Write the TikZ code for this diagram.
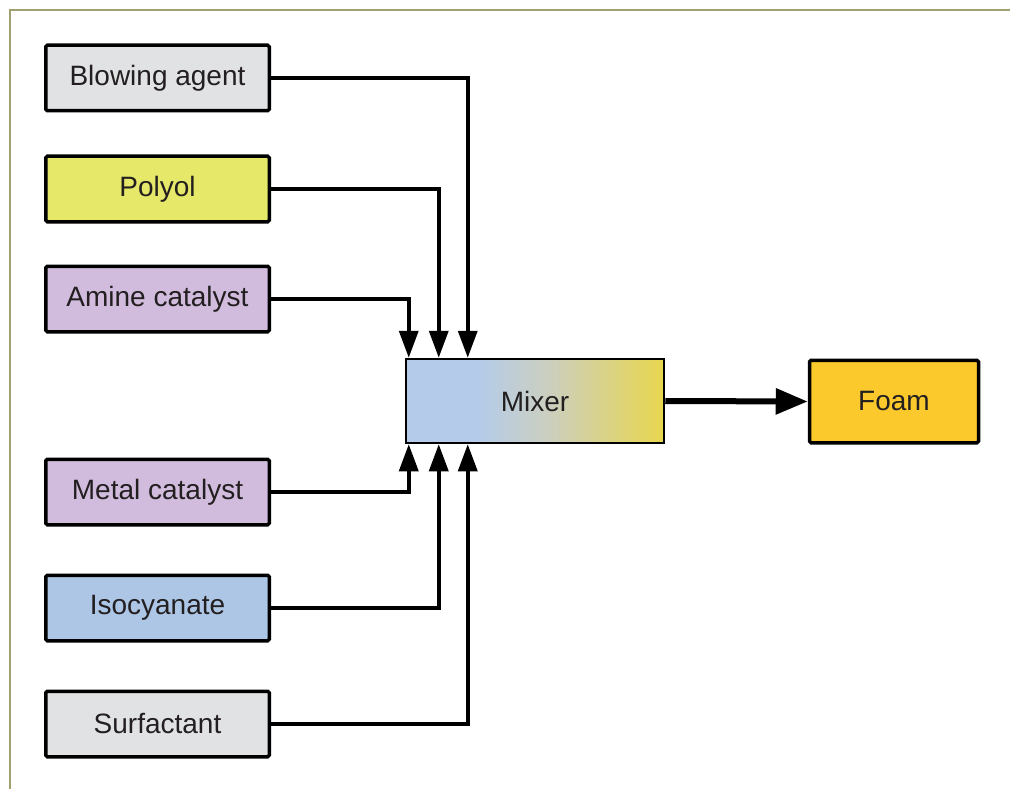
\documentclass[tikz,border=0pt]{standalone}
\usepackage{fontspec}
\setmainfont{Liberation Sans}
\usetikzlibrary{arrows.meta}
\definecolor{txt}{HTML}{231F20}
\definecolor{cgray}{HTML}{E1E2E4}
\definecolor{cpoly}{HTML}{E6E86A}
\definecolor{cpurp}{HTML}{D1BCDD}
\definecolor{cblue}{HTML}{ADC6E6}
\definecolor{cfoam}{HTML}{FCC92D}
\definecolor{mblue}{HTML}{B4CBE9}
\definecolor{mmid}{HTML}{CBCFC2}
\definecolor{myel}{HTML}{E8D64E}
\definecolor{frame}{HTML}{A0A070}
\pgfdeclarehorizontalshading{mixershade}{100bp}{color(0bp)=(mblue); color(25bp)=(mblue); color(39bp)=(mblue); color(52bp)=(mmid); color(75bp)=(myel); color(100bp)=(myel)}
\tikzset{
  inbox/.style={draw=black, line width=3.5pt, rounded corners=1.5pt, minimum width=223.5pt, minimum height=65.5pt, inner sep=0pt, text=txt, font=\fontsize{28}{32}\selectfont},
  conn/.style={draw=black, line width=3.5pt, -{Triangle[length=27pt,width=19pt]}},
  bigconn/.style={draw=black, line width=6pt, -{Triangle[length=32pt,width=25pt]}}
}
\begin{document}
\begin{tikzpicture}[x=1pt,y=-1pt]
\useasboundingbox (0,0) rectangle (1010,789);
\draw[frame, line width=1.2pt] (1010,10) -- (10,10) -- (10,789);
\node[inbox, fill=cgray] (ba) at (157.5,78) {Blowing agent};
\node[inbox, fill=cpoly] (po) at (157.5,189) {Polyol};
\node[inbox, fill=cpurp] (am) at (157.5,299) {Amine catalyst};
\node[inbox, fill=cpurp] (me) at (157.5,492) {Metal catalyst};
\node[inbox, fill=cblue] (is) at (157.5,608) {Isocyanate};
\node[inbox, fill=cgray] (su) at (157.5,724) {Surfactant};
\node[draw=black, line width=2.5pt, shading=mixershade, minimum width=258pt, minimum height=84pt, inner sep=0pt, text=txt, font=\fontsize{28}{32}\selectfont] (mix) at (535,401) {Mixer};
\node[inbox, fill=cfoam, minimum width=169pt, minimum height=82.5pt] (foam) at (894,401.5) {Foam};
\draw[conn] (ba.east) -| ([xshift=63pt]mix.north west);
\draw[conn] (po.east) -| ([xshift=34pt]mix.north west);
\draw[conn] (am.east) -| ([xshift=4pt]mix.north west);
\draw[conn] (me.east) -| ([xshift=4pt]mix.south west);
\draw[conn] (is.east) -| ([xshift=34pt]mix.south west);
\draw[conn] (su.east) -| ([xshift=63pt]mix.south west);
\draw[bigconn] (mix.east) -- (foam.west);
\end{tikzpicture}
\end{document}
